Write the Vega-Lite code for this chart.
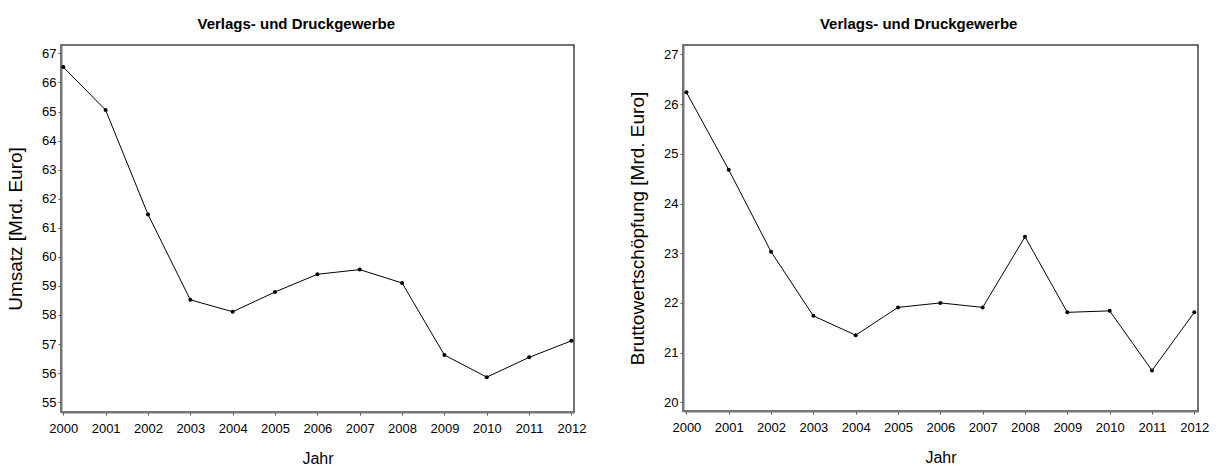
{
  "$schema": "https://vega.github.io/schema/vega-lite/v6.json",
  "background": "white",
  "padding": {"left": 5, "top": 16, "right": 5, "bottom": 5},
  "bounds": "flush",
  "spacing": 109,
  "data": {"values": [
    {"Jahr": 2000, "Umsatz": 66.53, "BWS": 26.24},
    {"Jahr": 2001, "Umsatz": 65.05, "BWS": 24.68},
    {"Jahr": 2002, "Umsatz": 61.46, "BWS": 23.03},
    {"Jahr": 2003, "Umsatz": 58.52, "BWS": 21.74},
    {"Jahr": 2004, "Umsatz": 58.11, "BWS": 21.35},
    {"Jahr": 2005, "Umsatz": 58.79, "BWS": 21.91},
    {"Jahr": 2006, "Umsatz": 59.40, "BWS": 22.00},
    {"Jahr": 2007, "Umsatz": 59.56, "BWS": 21.91},
    {"Jahr": 2008, "Umsatz": 59.10, "BWS": 23.33},
    {"Jahr": 2009, "Umsatz": 56.62, "BWS": 21.81},
    {"Jahr": 2010, "Umsatz": 55.86, "BWS": 21.84},
    {"Jahr": 2011, "Umsatz": 56.54, "BWS": 20.64},
    {"Jahr": 2012, "Umsatz": 57.11, "BWS": 21.81}
  ]},
  "hconcat": [
    {
      "width": 513,
      "height": 367,
      "title": {"text": "Verlags- und Druckgewerbe", "frame": "bounds", "anchor": "middle", "offset": 13},
      "encoding": {
        "x": {"field": "Jahr", "type": "quantitative",
              "scale": {"domain": [1999.946, 2012.06], "nice": false, "zero": false},
              "axis": {"title": "Jahr", "values": [2000,2001,2002,2003,2004,2005,2006,2007,2008,2009,2010,2011,2012], "format": "d"}},
        "y": {"field": "Umsatz", "type": "quantitative",
              "scale": {"domain": [54.66, 67.29], "nice": false, "zero": false},
              "axis": {"title": "Umsatz [Mrd. Euro]",
                       "values": [55,55.5,56,56.5,57,57.5,58,58.5,59,59.5,60,60.5,61,61.5,62,62.5,63,63.5,64,64.5,65,65.5,66,66.5,67],
                       "labelExpr": "datum.value % 1 === 0 ? format(datum.value, 'd') : ''",
                       "tickSize": {"condition": {"test": "datum.value % 1 !== 0", "value": 1.5}, "value": 3}}}
      },
      "layer": [
        {"mark": {"type": "line", "color": "black", "strokeWidth": 1}},
        {"mark": {"type": "point", "filled": true, "color": "black", "size": 16, "opacity": 1}}
      ]
    },
    {
      "width": 515,
      "height": 366,
      "title": {"text": "Verlags- und Druckgewerbe", "frame": "bounds", "anchor": "middle", "offset": 13},
      "encoding": {
        "x": {"field": "Jahr", "type": "quantitative",
              "scale": {"domain": [1999.92, 2012.087], "nice": false, "zero": false},
              "axis": {"title": "Jahr", "values": [2000,2001,2002,2003,2004,2005,2006,2007,2008,2009,2010,2011,2012], "format": "d"}},
        "y": {"field": "BWS", "type": "quantitative",
              "scale": {"domain": [19.825, 27.19], "nice": false, "zero": false},
              "axis": {"title": "Bruttowertschöpfung [Mrd. Euro]",
                       "values": [20,20.5,21,21.5,22,22.5,23,23.5,24,24.5,25,25.5,26,26.5,27],
                       "labelExpr": "datum.value % 1 === 0 ? format(datum.value, 'd') : ''",
                       "tickSize": {"condition": {"test": "datum.value % 1 !== 0", "value": 1.5}, "value": 3}}}
      },
      "layer": [
        {"mark": {"type": "line", "color": "black", "strokeWidth": 1}},
        {"mark": {"type": "point", "filled": true, "color": "black", "size": 16, "opacity": 1}}
      ]
    }
  ],
  "config": {
    "view": {"stroke": "#444444", "strokeWidth": 1.5},
    "title": {"font": "Liberation Sans", "fontSize": 15, "fontWeight": "bold", "color": "black"},
    "axis": {
      "grid": false,
      "domainColor": "#777777",
      "domainWidth": 2,
      "tickColor": "#555555",
      "tickWidth": 1,
      "tickSize": 3,
      "labelFont": "Liberation Sans Narrow, Liberation Sans",
      "labelColor": "black",
      "labelPadding": 2,
      "titleFont": "Liberation Sans",
      "titleFontWeight": "normal",
      "titleColor": "black"
    },
    "axisX": {"labelFontSize": 13, "labelPadding": 7, "titleFontSize": 16, "titlePadding": 15, "labelFlush": false},
    "axisY": {"labelFontSize": 13, "titleFontSize": 19, "titlePadding": 16}
  }
}
